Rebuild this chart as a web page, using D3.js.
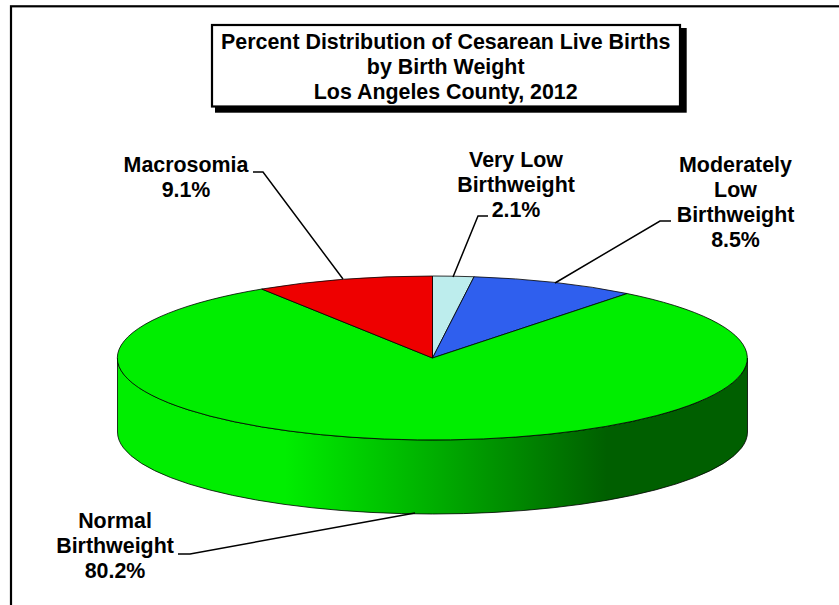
<!DOCTYPE html>
<head>
    <meta charset="utf-8">
    <title>Percent Distribution of Cesarean Live Births by Birth Weight</title>
    <style>
        html, body { margin: 0; padding: 0; background: #fff; overflow: hidden; }
        svg { display: block; }
        text { font-family: "Liberation Sans", Arial, sans-serif; font-weight: bold; fill: #000; text-anchor: middle; }
    </style>
</head>
<body>

<svg width="839" height="605"></svg>

<script src="https://d3js.org/d3.v7.min.js"></script>
<script>

    //data, clockwise from 12 o'clock
    var categories = ["Very Low Birthweight", "Moderately Low Birthweight", "Normal Birthweight", "Macrosomia"];
    var values = [2.1, 8.5, 80.2, 9.1];
    var sliceColors = ["#bdeded", "#2f5fee", "#00ee00", "#ee0000"];
    var titleLines = ["Percent Distribution of Cesarean Live Births", "by Birth Weight", "Los Angeles County, 2012"];
    var labelLines = [["Very Low", "Birthweight", "2.1%"], ["Moderately", "Low", "Birthweight", "8.5%"], ["Normal", "Birthweight", "80.2%"], ["Macrosomia", "9.1%"]];

    //svg setting
    var svg = d3.select("svg");

    //pie layout on a flattened circle
    var cx = 432.5, cy = 358, rx = 315, ry = 82, depth = 74;
    var x = d3.scaleLinear().domain([-1, 1]).range([cx - rx, cx + rx]);
    var y = d3.scaleLinear().domain([-1, 1]).range([cy - ry, cy + ry]);

    var pie = d3.pie().sort(null).value(d => d);
    var arc = d3.arc().innerRadius(0).outerRadius(1);

    //outer frame runs off the right and bottom of the page
    svg.append("rect")
        .attr("x", 11).attr("y", 6.3)
        .attr("width", 860).attr("height", 640)
        .attr("fill", "#fff").attr("stroke", "#000").attr("stroke-width", 2.2);

    //side wall shading
    var grad = svg.append("defs").append("linearGradient")
        .attr("id", "wall")
        .attr("gradientUnits", "userSpaceOnUse")
        .attr("x1", x(-1)).attr("x2", x(1)).attr("y1", 0).attr("y2", 0);
    var stops = [[285, "#00ee00"], [430, "#00b000"], [607, "#005f00"]];
    grad.selectAll("stop")
        .data(stops)
        .enter().append("stop")
        .attr("offset", d => (d[0] - x(-1)) / (x(1) - x(-1)))
        .attr("stop-color", d => d[1]);

    svg.append("path")
        .attr("d", `M${x(-1)},${y(0)} L${x(-1)},${y(0) + depth} A${rx},${ry} 0 0 0 ${x(1)},${y(0) + depth} L${x(1)},${y(0)} A${rx},${ry} 0 0 1 ${x(-1)},${y(0)} Z`)
        .attr("fill", "url(#wall)")
        .attr("stroke", "#000")
        .attr("stroke-width", 0.8);

    //top face
    svg.append("g")
        .attr("transform", `translate(${x(0)},${y(0)}) scale(${rx},${ry})`)
        .selectAll("path")
        .data(pie(values))
        .enter().append("path")
        .attr("d", arc)
        .attr("fill", (d, i) => sliceColors[i])
        .attr("stroke", "#000")
        .attr("stroke-width", 0.8)
        .attr("vector-effect", "non-scaling-stroke")
        .append("title") //tooltip
        .text((d, i) => categories[i] + ": " + d.value + "%");

    //leader lines
    var leaders = [
        [[488, 216], [478, 216], [453, 277]],
        [[671, 221], [660, 221], [555, 283]],
        [[178, 554], [190, 554], [415, 513]],
        [[253, 172], [263, 172], [343, 279]]
    ];
    var line = d3.line();
    svg.append("g").selectAll("path")
        .data(leaders)
        .enter().append("path")
        .attr("d", line)
        .attr("fill", "none")
        .attr("stroke", "#000")
        .attr("stroke-width", 1.5);

    //labels, first baseline of each block
    var labelPos = [[516, 167], [735.5, 172], [115, 528], [186, 172]];
    var labelGap = 25;
    svg.append("g").selectAll("text")
        .data(labelLines)
        .enter().append("text")
        .attr("font-size", 21.4)
        .attr("transform", (d, i) => `translate(${labelPos[i][0]},${labelPos[i][1]})`)
        .selectAll("tspan")
        .data(d => d)
        .enter().append("tspan")
        .attr("x", 0)
        .attr("y", (d, i) => i * labelGap)
        .text(d => d);

    //title box with its drop shadow
    svg.append("rect")
        .attr("x", 215).attr("y", 28).attr("width", 471.7).attr("height", 84.7)
        .attr("fill", "#000");
    svg.append("rect")
        .attr("x", 212).attr("y", 25).attr("width", 468).attr("height", 81.5)
        .attr("fill", "#fff").attr("stroke", "#000").attr("stroke-width", 2.2);
    svg.append("g").selectAll("text")
        .data(titleLines)
        .enter().append("text")
        .attr("x", 445.7)
        .attr("y", (d, i) => 49 + i * 25)
        .attr("font-size", 21.4)
        .text(d => d);

</script>

</body>
